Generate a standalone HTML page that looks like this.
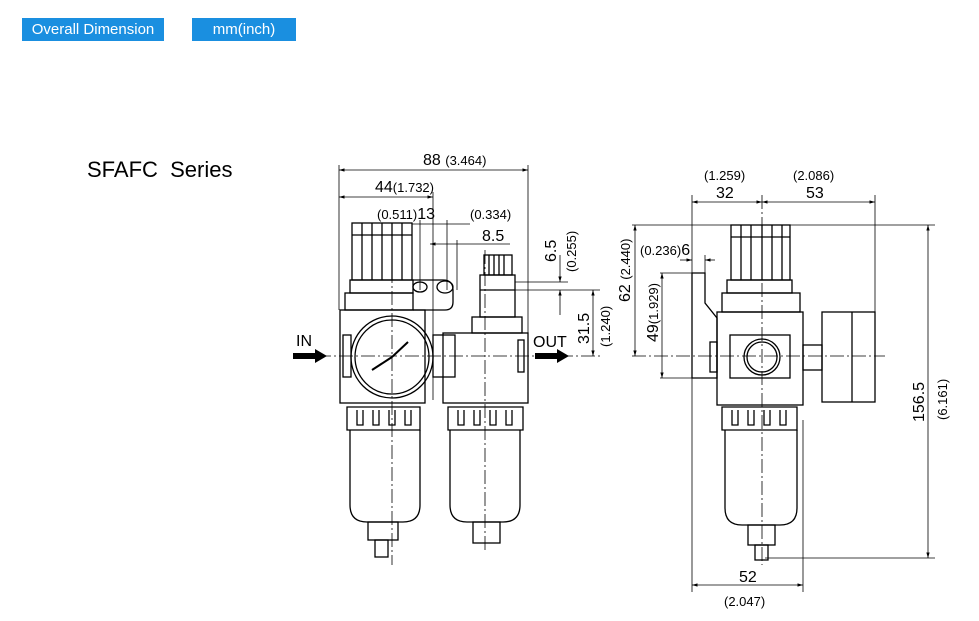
<!DOCTYPE html>
<html><head><style>
body{margin:0;background:#fff;width:979px;height:621px;overflow:hidden;font-family:"Liberation Sans",Arial,sans-serif}
.b{position:absolute;background:#1a8fe0;color:#fff;font-size:15px;text-align:center;line-height:23px;top:18px;height:23px}
</style></head><body>
<div class="b" style="left:22px;width:142px">Overall Dimension</div>
<div class="b" style="left:192px;width:104px">mm(inch)</div>
<svg width="979" height="621" style="position:absolute;left:0;top:0" font-family="Liberation Sans, Arial, sans-serif">
<defs>
<marker id="a" viewBox="0 0 10 10" refX="10" refY="5" markerWidth="7" markerHeight="7" orient="auto-start-reverse"><path d="M0,2 L10,5 L0,8z" fill="#000"/></marker>
</defs>
<text x="87" y="177" font-size="22">SFAFC&#160;&#160;Series</text>
<g stroke="#000" stroke-width="0.8" fill="none">
<line x1="339" y1="170" x2="528" y2="170" marker-start="url(#a)" marker-end="url(#a)"/>
<line x1="339" y1="197" x2="433" y2="197" marker-start="url(#a)" marker-end="url(#a)"/>
<line x1="339" y1="165" x2="339" y2="310"/><line x1="528" y1="165" x2="528" y2="335"/>
<line x1="433" y1="192" x2="433" y2="400"/>
<line x1="412" y1="224" x2="470" y2="224"/><line x1="420" y1="220" x2="420" y2="290"/><line x1="447" y1="220" x2="447" y2="290"/>
<line x1="430" y1="244" x2="457" y2="244" marker-start="url(#a)"/><line x1="457" y1="244" x2="510" y2="244"/>
<line x1="457" y1="240" x2="457" y2="290"/>
<line x1="515" y1="282" x2="568" y2="282"/><line x1="515" y1="290" x2="600" y2="290"/>
<line x1="560" y1="255" x2="560" y2="282" marker-end="url(#a)"/><line x1="560" y1="290" x2="560" y2="315" marker-start="url(#a)"/>
<line x1="593" y1="290" x2="593" y2="356" marker-start="url(#a)" marker-end="url(#a)"/>
<line x1="295" y1="356" x2="600" y2="356" stroke-dasharray="14,3,2,3"/>
<line x1="392" y1="225" x2="392" y2="565" stroke-dasharray="14,3,2,3"/>
<line x1="485" y1="250" x2="485" y2="550" stroke-dasharray="14,3,2,3"/>
<g stroke-width="1.3">
<rect x="352" y="223" width="60" height="57"/><line x1="352" y1="235" x2="412" y2="235"/>
<path d="M362 223v57M372 223v57M382 223v57M392 223v57M402 223v57"/>
<rect x="350" y="280" width="63" height="13"/>
<rect x="345" y="293" width="68" height="17"/>
<rect x="340" y="310" width="85" height="93"/>
<rect x="343" y="335" width="8" height="42"/>
<circle cx="392" cy="357" r="41"/><circle cx="392" cy="357" r="37"/>
<path d="M392 357L408 342M392 357L372 370" stroke-width="2"/>
<rect x="433" y="335" width="22" height="42"/>
<path d="M413 280h30q10 0 10 10v12q0 8-8 8h-32"/>
<ellipse cx="420" cy="287" rx="7" ry="5"/><ellipse cx="445" cy="287" rx="8" ry="6"/>
<rect x="484" y="255" width="28" height="20"/><path d="M489 255v20M494 255v20M499 255v20M504 255v20"/>
<rect x="480" y="275" width="35" height="42"/><line x1="480" y1="290" x2="515" y2="290"/>
<rect x="472" y="317" width="50" height="16"/>
<rect x="443" y="333" width="85" height="70"/>
<rect x="518" y="340" width="6" height="32"/>
<path d="M347 407h73v23h-73z M357 410v15h6v-15 M373 410v15h6v-15 M389 410v15h6v-15 M405 410v15h6v-15"/>
<path d="M350 430v75q0 17 17 17h36q17 0 17-17v-75"/>
<rect x="368" y="522" width="30" height="18"/><rect x="375" y="540" width="13" height="17"/>
<path d="M448 407h75v23h-75z M458 410v15h6v-15 M474 410v15h6v-15 M490 410v15h6v-15 M506 410v15h6v-15"/>
<path d="M450 430v75q0 17 17 17h36q17 0 17-17v-75"/>
<rect x="473" y="522" width="27" height="21"/>
</g>
<line x1="692" y1="202" x2="762" y2="202" marker-start="url(#a)" marker-end="url(#a)"/>
<line x1="762" y1="202" x2="875" y2="202" marker-start="url(#a)" marker-end="url(#a)"/>
<line x1="692" y1="195" x2="692" y2="592"/><line x1="875" y1="195" x2="875" y2="345"/>
<line x1="803" y1="420" x2="803" y2="592"/>
<line x1="692" y1="585" x2="803" y2="585" marker-start="url(#a)" marker-end="url(#a)"/>
<line x1="632" y1="225" x2="935" y2="225"/><line x1="765" y1="558" x2="935" y2="558"/>
<line x1="928" y1="225" x2="928" y2="558" marker-start="url(#a)" marker-end="url(#a)"/>
<line x1="635" y1="225" x2="635" y2="356" marker-start="url(#a)" marker-end="url(#a)"/>
<line x1="660" y1="273" x2="705" y2="273"/><line x1="660" y1="378" x2="710" y2="378"/>
<line x1="662" y1="273" x2="662" y2="378" marker-start="url(#a)" marker-end="url(#a)"/>
<line x1="680" y1="260" x2="692" y2="260" marker-end="url(#a)"/><line x1="715" y1="260" x2="705" y2="260" marker-end="url(#a)"/>
<line x1="705" y1="255" x2="705" y2="273"/>
<line x1="762" y1="195" x2="762" y2="565" stroke-dasharray="14,3,2,3"/>
<line x1="632" y1="356" x2="885" y2="356" stroke-dasharray="14,3,2,3"/>
<g stroke-width="1.3">
<path d="M692 273h13v30l12 15v60h-25z"/>
<rect x="731" y="225" width="59" height="55"/><line x1="731" y1="237" x2="790" y2="237"/>
<path d="M741 225v55M751 225v55M762 225v55M772 225v55M782 225v55"/>
<rect x="727" y="280" width="65" height="13"/><rect x="722" y="293" width="78" height="19"/>
<rect x="717" y="312" width="86" height="93"/>
<rect x="730" y="335" width="60" height="43"/><circle cx="762" cy="357" r="18"/><circle cx="762" cy="357" r="15"/>
<rect x="710" y="342" width="7" height="30"/>
<rect x="803" y="345" width="19" height="25"/>
<rect x="822" y="312" width="53" height="90"/><line x1="852" y1="312" x2="852" y2="402"/>
<path d="M722 407h75v23h-75z M732 410v15h6v-15 M748 410v15h6v-15 M764 410v15h6v-15 M780 410v15h6v-15"/>
<path d="M725 430v78q0 17 17 17h38q17 0 17-17v-78"/>
<rect x="748" y="525" width="27" height="20"/><rect x="755" y="545" width="13" height="15"/>
</g>
</g>
<path d="M293 353h22v-4l12 7-12 7v-4h-22z" fill="#000"/>
<path d="M535 353h22v-4l12 7-12 7v-4h-22z" fill="#000"/>
<g font-size="16" fill="#000">
<text x="296" y="346">IN</text><text x="533" y="347">OUT</text>
<text x="423" y="165">88 <tspan font-size="13">(3.464)</tspan></text>
<text x="375" y="192">44<tspan font-size="13">(1.732)</tspan></text>
<text x="377" y="219"><tspan font-size="13">(0.511)</tspan>13</text>
<text x="470" y="219" font-size="13">(0.334)</text>
<text x="482" y="241">8.5</text>
<text transform="translate(556,262) rotate(-90)">6.5</text>
<text transform="translate(576,272) rotate(-90)" font-size="13">(0.255)</text>
<text transform="translate(589,344) rotate(-90)">31.5</text>
<text transform="translate(610,347) rotate(-90)" font-size="13">(1.240)</text>
<text transform="translate(630,302) rotate(-90)">62 <tspan font-size="13">(2.440)</tspan></text>
<text transform="translate(658,342) rotate(-90)">49<tspan font-size="13">(1.929)</tspan></text>
<text x="640" y="255"><tspan font-size="13">(0.236)</tspan>6</text>
<text x="704" y="180" font-size="13">(1.259)</text><text x="716" y="198">32</text>
<text x="793" y="180" font-size="13">(2.086)</text><text x="806" y="198">53</text>
<text transform="translate(924,422) rotate(-90)">156.5</text>
<text transform="translate(947,420) rotate(-90)" font-size="13">(6.161)</text>
<text x="739" y="582">52</text><text x="724" y="606" font-size="13">(2.047)</text>
</g>
</svg>
</body></html>
